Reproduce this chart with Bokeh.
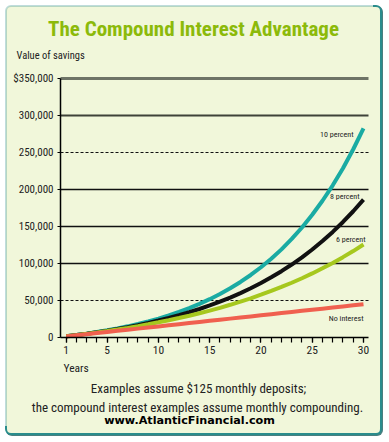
from bokeh.plotting import figure
from bokeh.models import Range1d, FixedTicker, Label, BoxAnnotation, ColumnDataSource, LinearAxis
from bokeh.core.properties import value
from bokeh.embed import file_html
from bokeh.resources import INLINE

# ---- data ----
years = list(range(1, 31))
no_interest = [1500, 3000, 4500, 6000, 7500, 9000, 10500, 12000, 13500, 15000,
               16500, 18000, 19500, 21000, 22500, 24000, 25500, 27000, 28500, 30000,
               31500, 33000, 34500, 36000, 37500, 39000, 40500, 42000, 43500, 45000]
six_pct = [1540, 3180, 4920, 6760, 8720, 10800, 13000, 15350, 17850, 20500,
           23300, 26300, 29400, 32800, 36400, 40100, 44200, 48400, 52900, 57800,
           62900, 68300, 74000, 80100, 86600, 93500, 100800, 108600, 116800, 125600]
eight_pct = [1560, 3240, 5070, 7040, 9190, 11500, 14000, 16700, 19700, 22900,
             26300, 30100, 34100, 38500, 43300, 48400, 54000, 60000, 66500, 73600,
             81300, 89600, 98600, 108300, 118900, 130300, 142700, 156100, 170600, 186300]
ten_pct = [1570, 3310, 5220, 7340, 9680, 12300, 15100, 18300, 21800, 25600,
           29900, 34600, 39700, 45500, 51800, 58800, 66500, 75100, 84500, 94900,
           106400, 119100, 133200, 148700, 165900, 184800, 205700, 228800, 254400, 282600]

series_names = ["10 percent", "8 percent", "6 percent", "No interest"]
series_values = [ten_pct, eight_pct, six_pct, no_interest]
series_colors = ["#1AABA3", "#111111", "#A6C81E", "#F0604F"]

y_ticks = [0, 50000, 100000, 150000, 200000, 250000, 300000, 350000]
y_tick_labels = ["0", "50,000", "100,000", "150,000", "200,000", "250,000", "300,000", "$350,000"]
x_ticks = [1, 5, 10, 15, 20, 25, 30]

title_text = "The Compound Interest Advantage"
y_title = "Value of savings"
x_title = "Years"
notes = ["Examples assume $125 monthly deposits;",
         "the compound interest examples assume monthly compounding."]
url_text = "www.AtlanticFinancial.com"

# ---- layout (pixels) ----
W, H = 373, 426
AX_LEFT, AX_RIGHT = 60, 368      # x pixel extent of the plotting area
AX_TOP, AX_BOTTOM = 78, 337      # y pixel extent (350,000 .. 0)
X1_PX, X30_PX = 65.7, 363.0      # pixel positions of year 1 and year 30
Y_MAX = 350000

xs = (X30_PX - X1_PX) / (30 - 1)
x_start = 1 - X1_PX / xs
x_end = 30 + (W - X30_PX) / xs
x_lo = 1 - (X1_PX - AX_LEFT) / xs
x_hi = 30 + (AX_RIGHT - X30_PX) / xs
ys = (AX_BOTTOM - AX_TOP) / Y_MAX
y_start = -(H - AX_BOTTOM) / ys
y_end = Y_MAX + AX_TOP / ys

NARROW = "Roboto Condensed"
BG = "#F1F7DA"
TEAL = "#2A8C8C"
INK = "#222222"

p = figure(width=W, height=H, output_backend="svg", toolbar_location=None,
           x_range=Range1d(x_start, x_end), y_range=Range1d(y_start, y_end),
           x_axis_type=None, y_axis_type=None, min_border=0)
p.title.visible = False
p.border_fill_color = "white"
p.background_fill_color = "white"
p.outline_line_color = None
p.grid.visible = False
p.styles = {"border-radius": "4px",
            "box-shadow": f"7px 7px 0 0 {BG}, 7px 7px 0 2px {TEAL}, 8px 8px 0 2px #4A7F7F"}

# card
card = BoxAnnotation(left=5.5, right=W + 20, top=H - 5.5, bottom=-20,
                     left_units="screen", right_units="screen", top_units="screen", bottom_units="screen",
                     fill_color=BG, fill_alpha=1.0, line_color=TEAL, line_width=2, level="underlay",
                     border_radius=5)
p.add_layout(card)

# horizontal grid lines
grid_styles = {
    50000: dict(line_color="#111111", line_width=1, line_dash="3 2"),
    100000: dict(line_color="#111111", line_width=1.5),
    150000: dict(line_color="#111111", line_width=1.5),
    200000: dict(line_color="#111111", line_width=1.5),
    250000: dict(line_color="#111111", line_width=1, line_dash="3 2"),
    300000: dict(line_color="#3E4238", line_width=2),
    350000: dict(line_color="#6E7466", line_width=3),
}
for t in y_ticks[1:]:
    p.segment(x0=[x_lo], y0=[t], x1=[x_hi], y1=[t], **grid_styles[t])

# axes (placed in side panels, drawn at fixed locations)
xa = LinearAxis(fixed_location=0, bounds=(x_lo, x_hi))
xa.ticker = FixedTicker(ticks=x_ticks, minor_ticks=years)
xa.axis_line_color = "black"
xa.axis_line_width = 1.5
xa.major_tick_in = 0
xa.major_tick_out = 5
xa.minor_tick_in = 0
xa.minor_tick_out = 5
xa.major_tick_line_color = "black"
xa.minor_tick_line_color = "black"
xa.major_tick_line_width = 1.2
xa.minor_tick_line_width = 1.2
xa.major_label_text_font = NARROW
xa.major_label_text_font_size = "11.5px"
xa.major_label_text_color = INK
xa.major_label_standoff = 3
p.add_layout(xa, "below")

ya = LinearAxis(fixed_location=x_lo, bounds=(0, Y_MAX))
ya.ticker = FixedTicker(ticks=y_ticks, minor_ticks=[])
ya.major_label_overrides = {t: s for t, s in zip(y_ticks, y_tick_labels)}
ya.axis_line_color = "black"
ya.axis_line_width = 1.5
ya.major_tick_in = 0
ya.major_tick_out = 3
ya.major_tick_line_color = "black"
ya.major_label_text_font = NARROW
ya.major_label_text_font_size = "11px"
ya.major_label_text_color = INK
ya.major_label_standoff = 4
p.add_layout(ya, "left")

# series
for name, vals, col in zip(series_names, series_values, series_colors):
    src = ColumnDataSource(dict(x=years, y=vals))
    p.line("x", "y", source=src, line_color=col, line_width=4)

# series labels anchored at the last point of each series
label_offsets = {"10 percent": (-10, 6), "8 percent": (-4, -3), "6 percent": (2, -5), "No interest": (0, 14)}
for name, vals in zip(series_names, series_values):
    dx, dy = label_offsets[name]
    src = ColumnDataSource(dict(x=[years[-1]], y=[vals[-1]], t=[name]))
    p.text("x", "y", text="t", source=src, x_offset=dx, y_offset=dy,
           text_align="right", text_baseline="middle",
           text_font=value(NARROW), text_font_size="8px", text_color=INK)

def lab(text, x, y, align, size, font, color, style="normal"):
    # x from the left edge, y from the top edge, in pixels
    p.add_layout(Label(x=x, y=H - y, x_units="screen", y_units="screen", text=text,
                       text_align=align, text_baseline="middle", text_font=font,
                       text_font_size=size, text_color=color, text_font_style=style))

lab(title_text, 193, 28, "center", "21px", NARROW, "#8CBA0A", "bold")
lab(y_title, 16, 55, "left", "10.5px", NARROW, INK)
lab(x_title, 63, 367, "left", "11.5px", NARROW, INK)
lab(notes[0], 198, 388, "center", "13px", NARROW, INK)
lab(notes[1], 197, 407, "center", "13px", NARROW, INK)
lab(url_text, 189, 420, "center", "11.2px", "DejaVu Sans", "#000000", "bold")

open("out.html", "w").write(file_html(p, INLINE))
